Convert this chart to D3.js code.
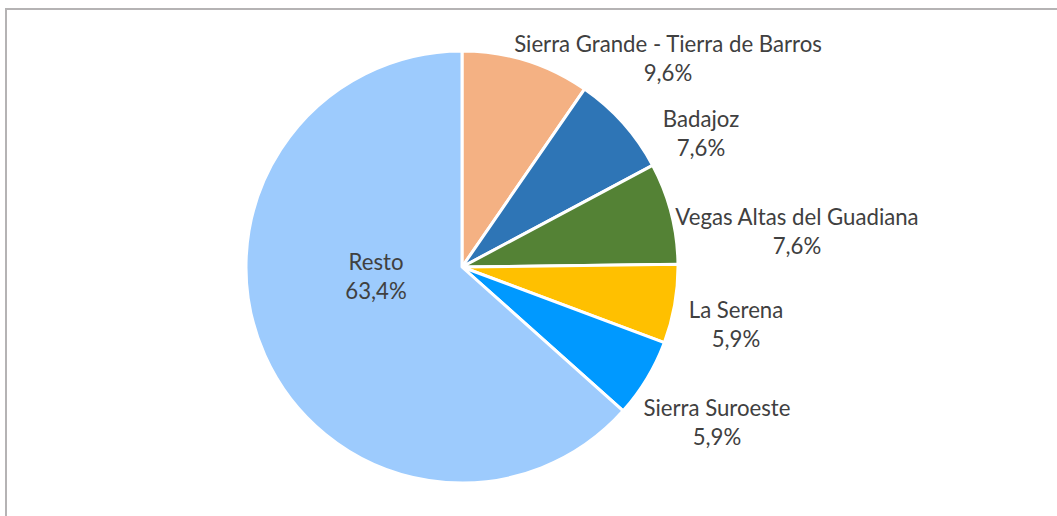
<!DOCTYPE html>
<html>
<head>
<meta charset="utf-8">
<script src="https://cdn.jsdelivr.net/npm/d3@7/dist/d3.min.js"></script>
<style>
  html, body { margin: 0; padding: 0; background: #fff; }
  svg { display: block; }
</style>
</head>
<body>
<script>
// ---- data ----
const categories = ["Sierra Grande - Tierra de Barros", "Badajoz", "Vegas Altas del Guadiana", "La Serena", "Sierra Suroeste", "Resto"];
const values = [9.6, 7.6, 7.6, 5.9, 5.9, 63.4];
const valueLabels = ["9,6%", "7,6%", "7,6%", "5,9%", "5,9%", "63,4%"];
const colors = ["#F4B183", "#2E75B6", "#548235", "#FFC000", "#0099FF", "#9DCBFD"];

// ---- layout (label anchor: centre x, first baseline y) ----
const labelLayout = [[668, 52], [701, 127], [797, 225], [736, 318], [717, 416], [376, 270]];

const W = 1057, H = 516;
const cx = 462, cy = 267, R = 216;

const svg = d3.select("body").append("svg").attr("width", W).attr("height", H);

// chart frame (cropped at right/bottom)
svg.append("rect")
  .attr("x", 6).attr("y", 9)
  .attr("width", W + 20).attr("height", H + 20)
  .attr("fill", "#fff").attr("stroke", "#b5b3b4").attr("stroke-width", 2);

const pie = d3.pie().sort(null).value(d => d)(values);
const arc = d3.arc().innerRadius(0).outerRadius(R);

const g = svg.append("g").attr("transform", `translate(${cx},${cy})`);
g.selectAll("path").data(pie).join("path")
  .attr("d", arc)
  .attr("fill", (d, i) => colors[i])
  .attr("stroke", "#fff")
  .attr("stroke-width", 3)
  .attr("stroke-linejoin", "round");

// font sizing to match reference label width
const fontFamily = "Lato, 'Open Sans', sans-serif";
const probe = svg.append("text").attr("font-family", fontFamily).attr("font-size", 100).text(categories[0]);
const w100 = probe.node().getComputedTextLength();
probe.remove();
const fs = 100 * 308 / w100;
const lineH = 28.5;

const labels = svg.append("g")
  .attr("font-family", fontFamily)
  .attr("font-size", fs)
  .attr("fill", "#404040")
  .attr("text-anchor", "middle");

categories.forEach((c, i) => {
  const [lx, ly] = labelLayout[i];
  const t = labels.append("text").attr("x", lx).attr("y", ly);
  t.append("tspan").attr("x", lx).attr("y", ly).text(c);
  t.append("tspan").attr("x", lx).attr("y", ly + lineH).text(valueLabels[i]);
});
</script>
</body>
</html>
